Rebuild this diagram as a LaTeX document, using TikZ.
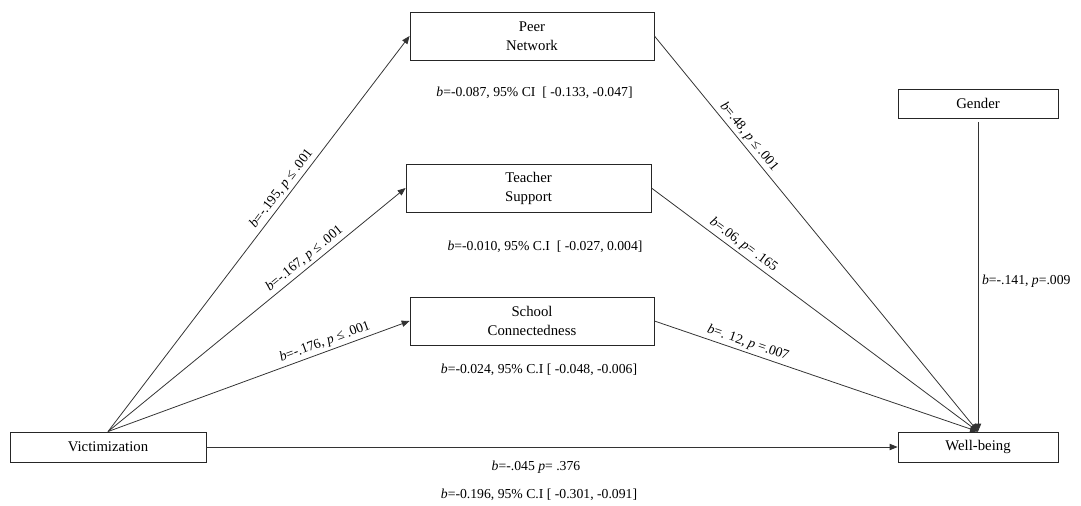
\documentclass[tikz,border=0pt]{standalone}
\usepackage{fontspec}
\setmainfont{Liberation Serif}
\usetikzlibrary{arrows.meta}
\begin{document}
\begin{tikzpicture}[x=0.02cm,y=-0.02cm,
		box/.style={draw=black!85,line width=0.5pt,align=center,inner sep=0pt,font=\fontsize{8.4}{10.8}\selectfont},
		conn/.style={draw=black!80,line width=0.45pt,-{Triangle[length=4.5pt,width=3.6pt]}},
		lbl/.style={inner sep=1.5pt,font=\fontsize{7.8}{9.5}\selectfont}]
		\useasboundingbox (0,0) rectangle (1081,506);
		% boxes
		\node[box,minimum width=4.88cm,minimum height=0.96cm] (peer) at (532,36) {Peer\\Network};
		\node[box,minimum width=4.9cm,minimum height=0.96cm] (teach) at (528.5,188) {Teacher\\Support};
		\node[box,minimum width=4.88cm,minimum height=0.96cm] (school) at (532,321) {School\\Connectedness};
		\node[box,minimum width=3.2cm,minimum height=0.58cm] (gender) at (978,103.5) {Gender};
		\node[box,minimum width=3.92cm,minimum height=0.6cm] (vict) at (108,447) {Victimization};
		\node[box,minimum width=3.2cm,minimum height=0.6cm] (well) at (978,447) {Well-being};
		% a paths
		\draw[conn] (vict.north) -- node[lbl,sloped,above,pos=0.6] (lvp) {\textit{b}=-.195, \textit{p} ≤ .001} (peer.west);
		\draw[conn] (vict.north) -- node[lbl,sloped,above,pos=0.68] (lvt) {\textit{b}=-.167, \textit{p} ≤ .001} (teach.west);
		\draw[conn] (vict.north) -- node[lbl,sloped,above,pos=0.73] (lvs) {\textit{b}=-.176, \textit{p} ≤ .001} (school.west);
		% b paths
		\draw[conn] (peer.east) -- node[lbl,sloped,above,pos=0.27] (lpw) {\textit{b}=.48, \textit{p} ≤ .001} (well.north);
		\draw[conn] (teach.east) -- node[lbl,sloped,above,pos=0.265] (ltw) {\textit{b}=.06, \textit{p}= .165} (well.north);
		\draw[conn] (school.east) -- node[lbl,sloped,above,pos=0.28] (lsw) {\textit{b}=. 12, \textit{p} =.007} (well.north);
		\draw[conn,shorten <=2pt] (gender.south) -- (well.north);
		\draw[conn] (vict.east) -- (well.west);
		% effects
		\node[lbl,anchor=west] (lgw) at (979,281) {\textit{b}=-.141, \textit{p}=.009};
		\node[lbl] (ind1) at (534.5,93) {\textit{b}=-0.087, 95\% CI\ \ [ -0.133, -0.047]};
		\node[lbl] (ind2) at (545,247) {\textit{b}=-0.010, 95\% C.I\ \ [ -0.027, 0.004]};
		\node[lbl] (ind3) at (539,370) {\textit{b}=-0.024, 95\% C.I [ -0.048, -0.006]};
		\node[lbl] (dir) at (536,467) {\textit{b}=-.045 \textit{p}= .376};
		\node[lbl] (tot) at (539,495) {\textit{b}=-0.196, 95\% C.I [ -0.301, -0.091]};
\end{tikzpicture}
\end{document}
